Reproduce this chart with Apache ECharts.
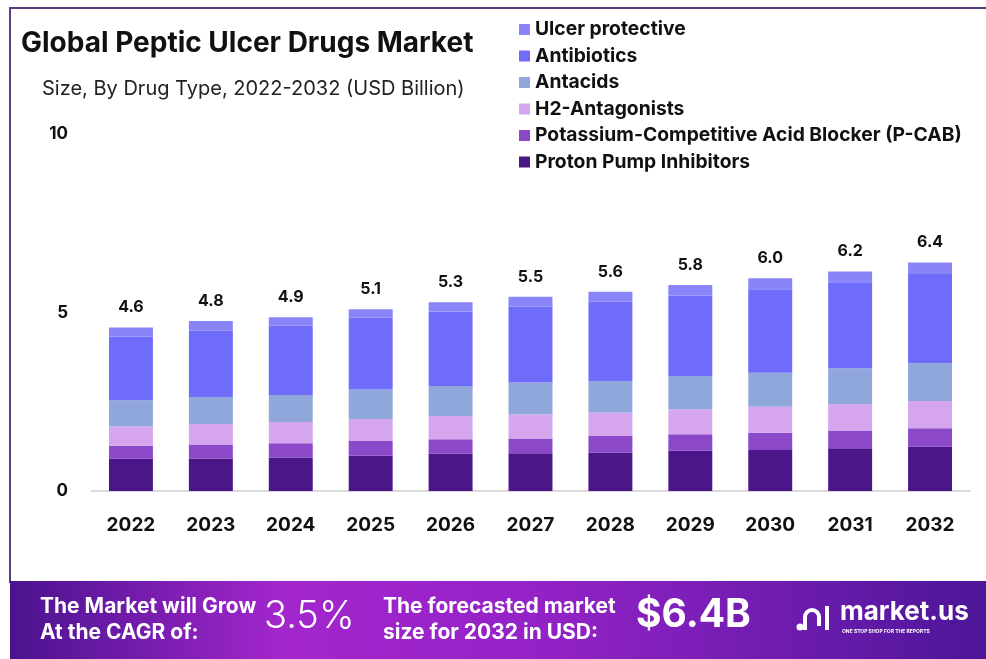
<!DOCTYPE html>
<html>
<head>
<meta charset="utf-8">
<script src="https://cdn.jsdelivr.net/npm/echarts@6/dist/echarts.min.js"></script>
<style>html,body{margin:0;padding:0;background:#fff;}#c{width:986px;height:659px;}</style>
</head>
<body>
<div id="c"></div>
<script>
const years = ['2022','2023','2024','2025','2026','2027','2028','2029','2030','2031','2032'];
const ppi        = [0.90,0.91,0.94,0.99,1.04,1.06,1.08,1.13,1.15,1.20,1.24];
const pcab       = [0.37,0.39,0.40,0.41,0.41,0.41,0.46,0.46,0.48,0.48,0.52];
const h2         = [0.54,0.58,0.59,0.62,0.65,0.67,0.65,0.70,0.73,0.76,0.76];
const antacids   = [0.73,0.75,0.76,0.82,0.84,0.90,0.89,0.93,0.95,1.00,1.06];
const antibiotics= [1.79,1.86,1.94,2.02,2.09,2.13,2.22,2.25,2.34,2.41,2.50];
const ulcer      = [0.25,0.27,0.24,0.23,0.26,0.27,0.28,0.30,0.31,0.30,0.32];
const totals     = ['4.6','4.8','4.9','5.1','5.3','5.5','5.6','5.8','6.0','6.2','6.4'];
const yTicks     = [0,5,10];

const FONT = 'Inter, "Open Sans", sans-serif';
const chart = echarts.init(document.getElementById('c'), null, {renderer:'canvas'});

const mk = (name, data, color, top) => ({
  name, type:'bar', stack:'total', data, barWidth:'55%',
  itemStyle:{color},
  label: top ? {show:true, position:'top', distance:12, color:'#111', fontFamily:FONT, fontWeight:'bold', fontSize:16,
    formatter: p => totals[p.dataIndex]} : {show:false},
  emphasis:{disabled:true}
});

chart.setOption({
  backgroundColor:'#fff',
  animation:false,
  grid:{left:91, right:16, top:134, bottom:168},
  legend:{
    orient:'vertical', left:514, top:15, itemWidth:11, itemHeight:11, itemGap:7.5,
    icon:'rect',
    textStyle:{fontFamily:FONT, fontWeight:'bold', fontSize:19.3, color:'#111'},
    data:['Ulcer protective','Antibiotics','Antacids','H2-Antagonists','Potassium-Competitive Acid Blocker (P-CAB)','Proton Pump Inhibitors']
  },
  xAxis:{
    type:'category', data:years,
    axisLine:{lineStyle:{color:'#d0d0d0', width:1.5}},
    axisTick:{show:false},
    axisLabel:{margin:25, color:'#111', fontFamily:FONT, fontWeight:'bold', fontSize:19}
  },
  yAxis:{
    type:'value', min:yTicks[0], max:yTicks[2], interval:5,
    splitLine:{show:false}, axisLine:{show:false}, axisTick:{show:false},
    axisLabel:{margin:23, color:'#111', fontFamily:FONT, fontWeight:'bold', fontSize:17}
  },
  series:[
    mk('Proton Pump Inhibitors', ppi, '#4b1688'),
    mk('Potassium-Competitive Acid Blocker (P-CAB)', pcab, '#8b48c9'),
    mk('H2-Antagonists', h2, '#d5a6ee'),
    mk('Antacids', antacids, '#8fa7da'),
    mk('Antibiotics', antibiotics, '#6f6cfb'),
    mk('Ulcer protective', ulcer, '#8985f8', true)
  ],
  graphic:[
    {type:'rect', z:-1, shape:{x:10,y:8,width:990,height:574}, style:{fill:'#fff', stroke:'#5b3c7c', lineWidth:2}},
    {type:'rect', z:10, shape:{x:10,y:581,width:976,height:78},
      style:{fill:new echarts.graphic.LinearGradient(0,0,1,0,[
        {offset:0,color:'#4a138e'},{offset:0.28,color:'#a326cd'},{offset:0.55,color:'#9322c6'},{offset:0.8,color:'#6d1cae'},{offset:1,color:'#4c1598'}])}},
    {type:'text', z:11, left:21, top:30, style:{text:'Global Peptic Ulcer Drugs Market', font:'bold 28px '+FONT, fill:'#111'}},
    {type:'text', z:11, left:42, top:79, style:{text:'Size, By Drug Type, 2022-2032 (USD Billion)', font:'20px '+FONT, fill:'#222'}},
    {type:'text', z:11, left:40, top:594, style:{text:'The Market will Grow\nAt the CAGR of:', font:'bold 21px '+FONT, fill:'#fff', lineHeight:26}},
    {type:'text', z:11, left:264, top:598, style:{text:'3.5%', font:'300 38px '+FONT, fill:'#fff'}},
    {type:'text', z:11, left:383, top:594, style:{text:'The forecasted market\nsize for 2032 in USD:', font:'bold 21px '+FONT, fill:'#fff', lineHeight:26}},
    {type:'text', z:11, left:636, top:596, style:{text:'$6.4B', font:'bold 39px '+FONT, fill:'#fff'}},
    {type:'circle', z:11, shape:{cx:800,cy:627,r:3.5}, style:{fill:'#fff'}},
    {type:'arc', z:11, shape:{cx:812,cy:617,r:7,startAngle:Math.PI,endAngle:0}, style:{stroke:'#fff',lineWidth:4,fill:null}},
    {type:'line', z:11, shape:{x1:805,y1:617,x2:805,y2:630}, style:{stroke:'#fff',lineWidth:4}},
    {type:'line', z:11, shape:{x1:819,y1:617,x2:819,y2:626}, style:{stroke:'#fff',lineWidth:4}},
    {type:'line', z:11, shape:{x1:827,y1:606,x2:827,y2:630}, style:{stroke:'#fff',lineWidth:4}},
    {type:'text', z:11, left:840, top:599, style:{text:'market.us', font:'bold 26px '+FONT, fill:'#fff'}},
    {type:'text', z:11, left:842, top:629, style:{text:'ONE STOP SHOP FOR THE REPORTS', font:'bold 5px '+FONT, fill:'#fff'}}
  ]
});
</script>
</body>
</html>
